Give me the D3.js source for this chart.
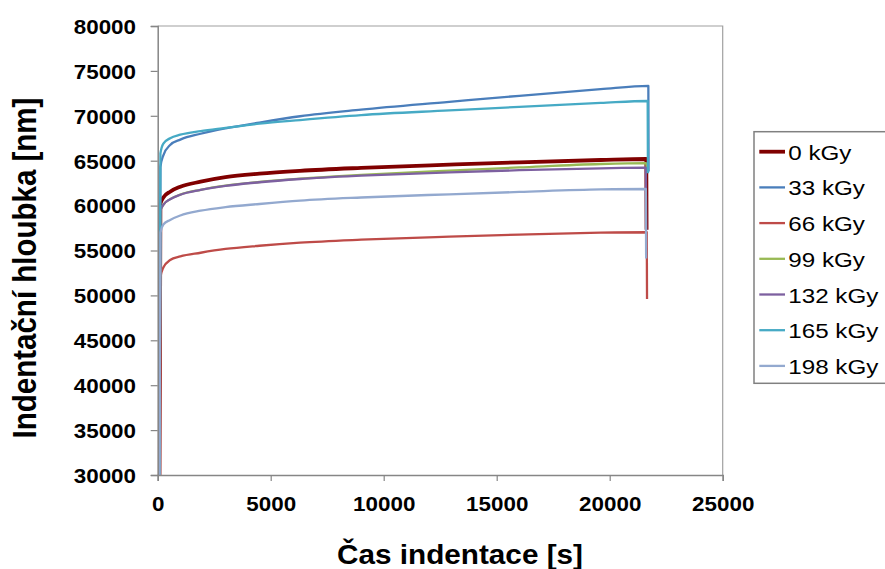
<!DOCTYPE html>
<html>
<head>
<meta charset="utf-8">
<script src="https://cdn.jsdelivr.net/npm/d3@7"></script>
<style>
  html, body { margin: 0; padding: 0; background: #fff; }
  svg { display: block; font-family: "Liberation Sans", Arial, sans-serif; }
</style>
</head>
<body>
<svg id="chart" width="885" height="569"></svg>
<script>
// ---- data ----
const seriesNames = ["0 kGy", "33 kGy", "66 kGy", "99 kGy", "132 kGy", "165 kGy", "198 kGy"];
const seriesColors = ["#800000", "#4A7EBB", "#BE4B48", "#98B954", "#7D60A0", "#46AAC5", "#93A9CF"];
// shared time points [s] during loading + hold
const times = [80, 120, 250, 550, 1000, 1900, 3000, 4500, 6300, 9000, 12900, 16000, 19600];
// end of hold [s] per series
const endTimes = [21620, 21710, 21640, 21620, 21600, 21680, 21600];
const depth0   = [30000, 60200, 60900, 61550, 62100, 62660, 63160, 63550, 63870, 64200, 64560, 64820, 65080];
const depth33  = [30000, 64300, 65600, 66750, 67350, 68000, 68600, 69250, 69950, 70680, 71550, 72230, 72960];
const depth66  = [30000, 52000, 53100, 53940, 54340, 54750, 55170, 55530, 55870, 56200, 56540, 56770, 56980];
const depth99  = [30000, 59400, 60100, 60720, 61230, 61760, 62220, 62630, 63000, 63420, 63900, 64250, 64630];
const depth132 = [30000, 59400, 60090, 60700, 61210, 61740, 62200, 62600, 62960, 63330, 63710, 63940, 64150];
const depth165 = [30000, 65800, 66900, 67500, 67900, 68300, 68650, 69120, 69530, 70080, 70600, 71000, 71430];
const depth198 = [30000, 57000, 57890, 58400, 58900, 59430, 59830, 60180, 60550, 60900, 61260, 61520, 61800];
// depth at end of hold and after unloading drop
const endDepth  = [65190, 73330, 57030, 64720, 64220, 71650, 61850];
const dropDepth = [57300, 63800, 49600, 63800, 57300, 63600, 54100];
const seriesDepths = [depth0, depth33, depth66, depth99, depth132, depth165, depth198];

const xTicks = [0, 5000, 10000, 15000, 20000, 25000];
const yTicks = [30000, 35000, 40000, 45000, 50000, 55000, 60000, 65000, 70000, 75000, 80000];
const xTitle = "Čas indentace [s]";
const yTitle = "Indentační hloubka [nm]";

// ---- layout ----
const plot = { left: 157.7, right: 722.7, top: 26, bottom: 475 };
const sx = 1.12; // horizontal text stretch seen in the reference

const svg = d3.select("#chart");
const x = d3.scaleLinear().domain([0, 25000]).range([plot.left, plot.right]);
const y = d3.scaleLinear().domain([30000, 80000]).range([plot.bottom, plot.top]);

svg.append("defs").append("clipPath").attr("id", "clip")
  .append("rect")
  .attr("x", plot.left).attr("y", plot.top)
  .attr("width", plot.right - plot.left).attr("height", plot.bottom - plot.top);

// plot border (top & right)
svg.append("path")
  .attr("d", `M${plot.left},${plot.top}H${plot.right}V${plot.bottom}`)
  .attr("fill", "none").attr("stroke", "#A0A0A0").attr("stroke-width", 1.2);

// series
const line = d3.line().x(d => x(d[0])).y(d => y(d[1])).curve(d3.curveMonotoneX);
const gLines = svg.append("g").attr("clip-path", "url(#clip)");
seriesNames.forEach((name, i) => {
  const pts = times.map((t, k) => [t, seriesDepths[i][k]]);
  pts.push([endTimes[i], endDepth[i]]);
  pts.push([endTimes[i] + 12, dropDepth[i]]);
  gLines.append("path")
    .datum(pts)
    .attr("fill", "none")
    .attr("stroke", seriesColors[i])
    .attr("stroke-width", i === 0 ? 3.8 : 2.3)
    .attr("stroke-linejoin", "round")
    .attr("d", line);
});

// axes
const yAxis = d3.axisLeft(y).tickValues(yTicks).tickSize(7).tickFormat(d3.format("d"));
const gy = svg.append("g").attr("transform", `translate(${plot.left},0)`).call(yAxis);
gy.select(".domain").attr("stroke", "#868686").attr("stroke-width", 1.5);
gy.selectAll(".tick line").attr("stroke", "#868686").attr("stroke-width", 1.2);
gy.selectAll(".tick text")
  .attr("x", -21.7 / sx).attr("dy", null).attr("y", 7.3)
  .attr("transform", `scale(${sx},1)`)
  .attr("font-size", 20).attr("font-weight", "bold").attr("fill", "#000")
  .attr("font-family", "Liberation Sans, Arial, sans-serif");

const xAxis = d3.axisBottom(x).tickValues(xTicks).tickSize(6).tickFormat(d3.format("d"));
const gx = svg.append("g").attr("transform", `translate(0,${plot.bottom})`).call(xAxis);
gx.select(".domain").attr("stroke", "#868686").attr("stroke-width", 1.5);
gx.selectAll(".tick line").attr("stroke", "#868686").attr("stroke-width", 1.2);
gx.selectAll(".tick text")
  .attr("y", 35.7).attr("dy", null).attr("x", 0)
  .attr("transform", `scale(${sx},1)`)
  .attr("font-size", 20).attr("font-weight", "bold").attr("fill", "#000")
  .attr("font-family", "Liberation Sans, Arial, sans-serif");

// axis titles
svg.append("text")
  .attr("transform", `translate(460,564.3) scale(1.1,1)`)
  .attr("text-anchor", "middle")
  .attr("font-size", 27).attr("font-weight", "bold")
  .text(xTitle);

svg.append("text")
  .attr("transform", `translate(36,268) scale(${sx},1) rotate(-90)`)
  .attr("text-anchor", "middle")
  .attr("font-size", 29.5).attr("font-weight", "bold")
  .text(yTitle);

// legend
const legend = svg.append("g");
legend.append("rect")
  .attr("x", 754).attr("y", 131.7).attr("width", 140).attr("height", 251.6)
  .attr("fill", "#fff").attr("stroke", "#808080").attr("stroke-width", 1.5);
const legendTop = 151.7, legendStep = 35.7;
seriesNames.forEach((name, i) => {
  const ly = legendTop + i * legendStep;
  legend.append("line")
    .attr("x1", 759.3).attr("x2", 785).attr("y1", ly).attr("y2", ly)
    .attr("stroke", seriesColors[i]).attr("stroke-width", i === 0 ? 3.8 : 2.3);
  legend.append("text")
    .attr("transform", `translate(788.3,${ly + 8}) scale(1.18,1)`)
    .attr("font-size", 20.5)
    .text(name);
});
</script>
</body>
</html>
